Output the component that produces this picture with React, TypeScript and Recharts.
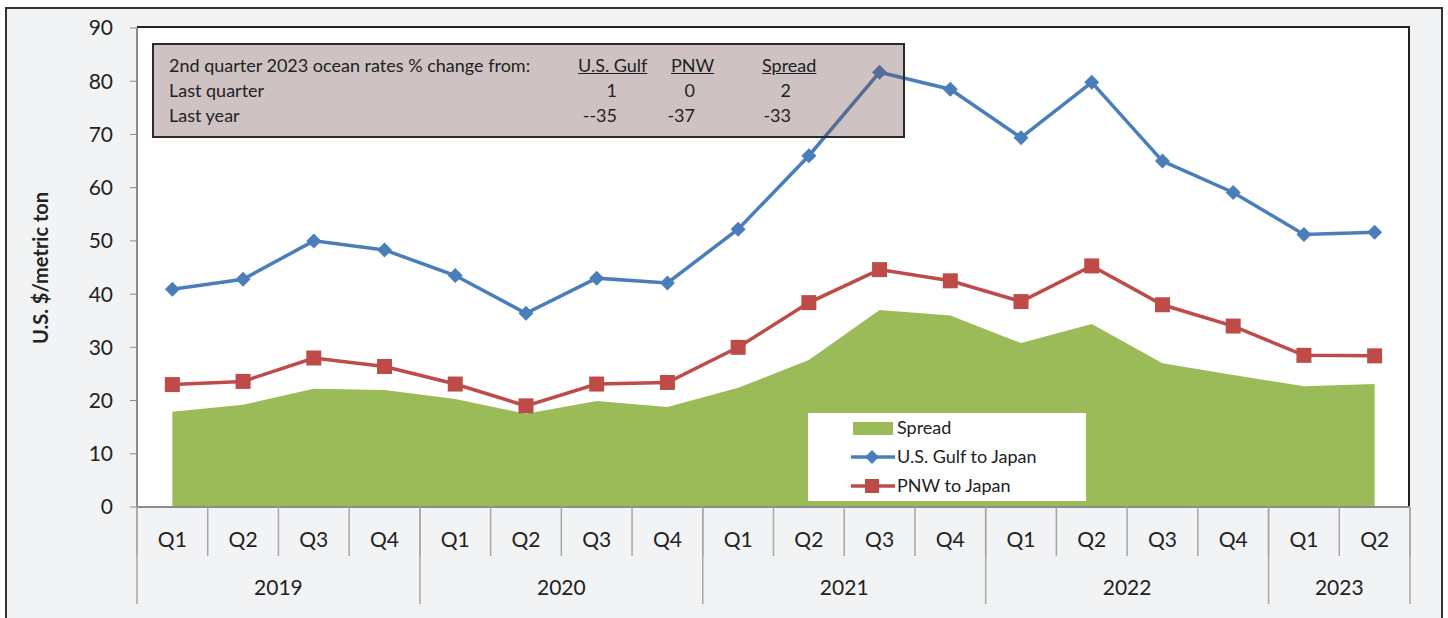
import React from "react";
import {
  ComposedChart,
  Area,
  Line,
  XAxis,
  YAxis,
} from "recharts";

const quarters = ["Q1", "Q2", "Q3", "Q4", "Q1", "Q2", "Q3", "Q4", "Q1", "Q2", "Q3", "Q4", "Q1", "Q2", "Q3", "Q4", "Q1", "Q2"];
const years = ["2019", "2019", "2019", "2019", "2020", "2020", "2020", "2020", "2021", "2021", "2021", "2021", "2022", "2022", "2022", "2022", "2023", "2023"];
const gulfToJapan = [40.9, 42.8, 50.0, 48.3, 43.5, 36.4, 43.0, 42.1, 52.2, 66.0, 81.7, 78.5, 69.4, 79.8, 65.0, 59.1, 51.2, 51.6];
const pnwToJapan = [23.0, 23.6, 28.0, 26.4, 23.1, 19.0, 23.1, 23.4, 30.0, 38.4, 44.6, 42.5, 38.6, 45.3, 38.0, 34.0, 28.5, 28.4];
const spread = [17.9, 19.2, 22.2, 22.0, 20.3, 17.5, 19.9, 18.8, 22.4, 27.6, 37.0, 36.0, 30.8, 34.4, 27.0, 24.8, 22.7, 23.1];
const yTicks = [0, 10, 20, 30, 40, 50, 60, 70, 80, 90];

const tableHeader = ["U.S. Gulf", "PNW", "Spread"];
const tableRows = [
  { label: "Last quarter", values: ["1", "0", "2"] },
  { label: "Last year", values: ["--35", "-37", "-33"] },
];

const data = quarters.map((q, i) => ({
  q,
  year: years[i],
  gulf: gulfToJapan[i],
  pnw: pnwToJapan[i],
  spread: spread[i],
}));

const FONT = "Lato, 'Open Sans', sans-serif";
const BLUE = "#4a7ebb";
const RED = "#be4b48";
const GREEN = "#9bbb59";
const SEP = "#a6a6a6";

const PLOT = { left: 137, top: 28, right: 1410, bottom: 507 };
const HALF = (PLOT.right - PLOT.left) / quarters.length / 2;

const Diamond = (props: any) => {
  const { cx, cy } = props;
  if (cx == null || cy == null) return null;
  const r = 7.5;
  return (
    <path
      d={`M${cx},${cy - r}L${cx + r},${cy}L${cx},${cy + r}L${cx - r},${cy}Z`}
      fill={BLUE}
    />
  );
};

const Square = (props: any) => {
  const { cx, cy } = props;
  if (cx == null || cy == null) return null;
  return <rect x={cx - 7.5} y={cy - 7.5} width={15} height={15} fill={RED} />;
};

const QuarterTick = (props: any) => {
  const { x, index, payload } = props;
  const last = index === quarters.length - 1;
  return (
    <g>
      <line x1={x - HALF} x2={x - HALF} y1={PLOT.bottom} y2={556} stroke={SEP} strokeWidth={1.5} />
      {last && <line x1={x + HALF} x2={x + HALF} y1={PLOT.bottom} y2={556} stroke={SEP} strokeWidth={1.5} />}
      <text x={x} y={547} textAnchor="middle" fontSize={21} fill="#222" fontFamily={FONT}>
        {payload.value}
      </text>
    </g>
  );
};

const YearTick = (props: any) => {
  const { x, index } = props;
  const start = index === 0 || years[index] !== years[index - 1];
  if (!start) return <g />;
  let end = index;
  while (end + 1 < years.length && years[end + 1] === years[index]) end++;
  const last = end === years.length - 1;
  return (
    <g>
      <line x1={x - HALF} x2={x - HALF} y1={PLOT.bottom} y2={604} stroke={SEP} strokeWidth={1.5} />
      {last && (
        <line
          x1={x + (end - index) * 2 * HALF + HALF}
          x2={x + (end - index) * 2 * HALF + HALF}
          y1={PLOT.bottom}
          y2={604}
          stroke={SEP}
          strokeWidth={1.5}
        />
      )}
      <text x={x + (end - index) * HALF} y={595} textAnchor="middle" fontSize={21} fill="#222" fontFamily={FONT}>
        {years[index]}
      </text>
    </g>
  );
};

const YLabel = () => (
  <text
    x={40}
    y={268}
    transform="rotate(-90 40 268)"
    textAnchor="middle"
    dominantBaseline="central"
    fontSize={20}
    fontWeight={700}
    fill="#222"
    fontFamily={FONT}
  >
    U.S. $/metric ton
  </text>
);

export default function App() {
  return (
    <div style={{ position: "fixed", left: 0, top: 0, width: 1448, height: 618, background: "#fff", overflow: "hidden", fontFamily: FONT }}>
      <div
        style={{
          position: "absolute",
          left: 5,
          top: 7,
          width: 1434,
          height: 640,
          border: "2.5px solid #333",
          background: "#f2f3f5",
        }}
      />
      <div
        style={{
          position: "absolute",
          left: PLOT.left,
          top: PLOT.top - 2,
          width: PLOT.right - PLOT.left,
          height: PLOT.bottom - PLOT.top + 2,
          background: "#fff",
          borderTop: "2px solid #222",
          borderRight: "2px solid #222",
          boxSizing: "border-box",
        }}
      />
      <div style={{ position: "absolute", left: 0, top: 0 }}>
        <ComposedChart
          width={1448}
          height={618}
          data={data}
          margin={{ top: 28, right: 38, left: 77, bottom: 11 }}
        >
          <XAxis
            xAxisId="q"
            dataKey="q"
            padding={{ left: HALF, right: HALF }}
            height={49}
            interval={0}
            tickLine={false}
            axisLine={{ stroke: "#8c8c8c", strokeWidth: 2 }}
            tick={(p: any) => <QuarterTick {...p} />}
          />
          <XAxis
            xAxisId="year"
            dataKey="year"
            padding={{ left: HALF, right: HALF }}
            height={51}
            interval={0}
            tickLine={false}
            axisLine={false}
            tick={(p: any) => <YearTick {...p} />}
          />
          <YAxis
            width={60}
            domain={[0, 90]}
            ticks={yTicks}
            interval={0}
            tickSize={7}
            tickMargin={17}
            tick={{ fontSize: 21, fill: "#222", fontFamily: FONT }}
            tickLine={{ stroke: "#8c8c8c" }}
            axisLine={{ stroke: "#8c8c8c", strokeWidth: 2 }}
            label={<YLabel />}
          />
          <Area
            xAxisId="q"
            type="linear"
            dataKey="spread"
            fill={GREEN}
            fillOpacity={1}
            stroke="none"
            isAnimationActive={false}
          />
          <Line
            xAxisId="q"
            type="linear"
            dataKey="gulf"
            stroke={BLUE}
            strokeWidth={3.5}
            dot={<Diamond />}
            activeDot={false}
            isAnimationActive={false}
          />
          <Line
            xAxisId="q"
            type="linear"
            dataKey="pnw"
            stroke={RED}
            strokeWidth={3.5}
            dot={<Square />}
            activeDot={false}
            isAnimationActive={false}
          />
        </ComposedChart>
      </div>

      {/* inset table */}
      <div
        style={{
          position: "absolute",
          left: 152,
          top: 43,
          width: 753,
          height: 95,
          boxSizing: "border-box",
          border: "2px solid #2b2b2b",
          background: "rgba(112, 76, 79, 0.34)",
          fontSize: 18,
          color: "#222",
        }}
      >
        <div style={{ position: "absolute", left: 15, top: 9, whiteSpace: "nowrap" }}>
          2nd quarter 2023 ocean rates % change from:
        </div>
        {tableHeader.map((h, i) => (
          <div
            key={h}
            style={{
              position: "absolute",
              left: [424, 517, 608][i],
              top: 9,
              textDecoration: "underline",
              whiteSpace: "nowrap",
            }}
          >
            {h}
          </div>
        ))}
        {tableRows.map((r, ri) => (
          <React.Fragment key={r.label}>
            <div style={{ position: "absolute", left: 15, top: 34 + ri * 25, whiteSpace: "nowrap" }}>{r.label}</div>
            {r.values.map((v, vi) => (
              <div
                key={vi}
                style={{
                  position: "absolute",
                  right: 753 - [467, 545, 641][vi],
                  top: 34 + ri * 25,
                  whiteSpace: "nowrap",
                  textAlign: "right",
                }}
              >
                {v}
              </div>
            ))}
          </React.Fragment>
        ))}
      </div>

      {/* legend */}
      <div
        style={{
          position: "absolute",
          left: 808,
          top: 413,
          width: 278,
          height: 88,
          background: "#fff",
          fontSize: 18,
          color: "#222",
        }}
      >
        <div style={{ position: "absolute", left: 45, top: 9, width: 40, height: 13, background: GREEN }} />
        <div style={{ position: "absolute", left: 89, top: 3 }}>Spread</div>
        <svg style={{ position: "absolute", left: 40, top: 34 }} width={50} height={20}>
          <line x1={3} x2={47} y1={10} y2={10} stroke={BLUE} strokeWidth={3.5} />
          <path d="M24,3L31,10L24,17L17,10Z" fill={BLUE} />
        </svg>
        <div style={{ position: "absolute", left: 89, top: 32 }}>U.S. Gulf to Japan</div>
        <svg style={{ position: "absolute", left: 40, top: 63 }} width={50} height={20}>
          <line x1={3} x2={47} y1={10} y2={10} stroke={RED} strokeWidth={3.5} />
          <rect x={17} y={3} width={14} height={14} fill={RED} />
        </svg>
        <div style={{ position: "absolute", left: 89, top: 61 }}>PNW to Japan</div>
      </div>
    </div>
  );
}
